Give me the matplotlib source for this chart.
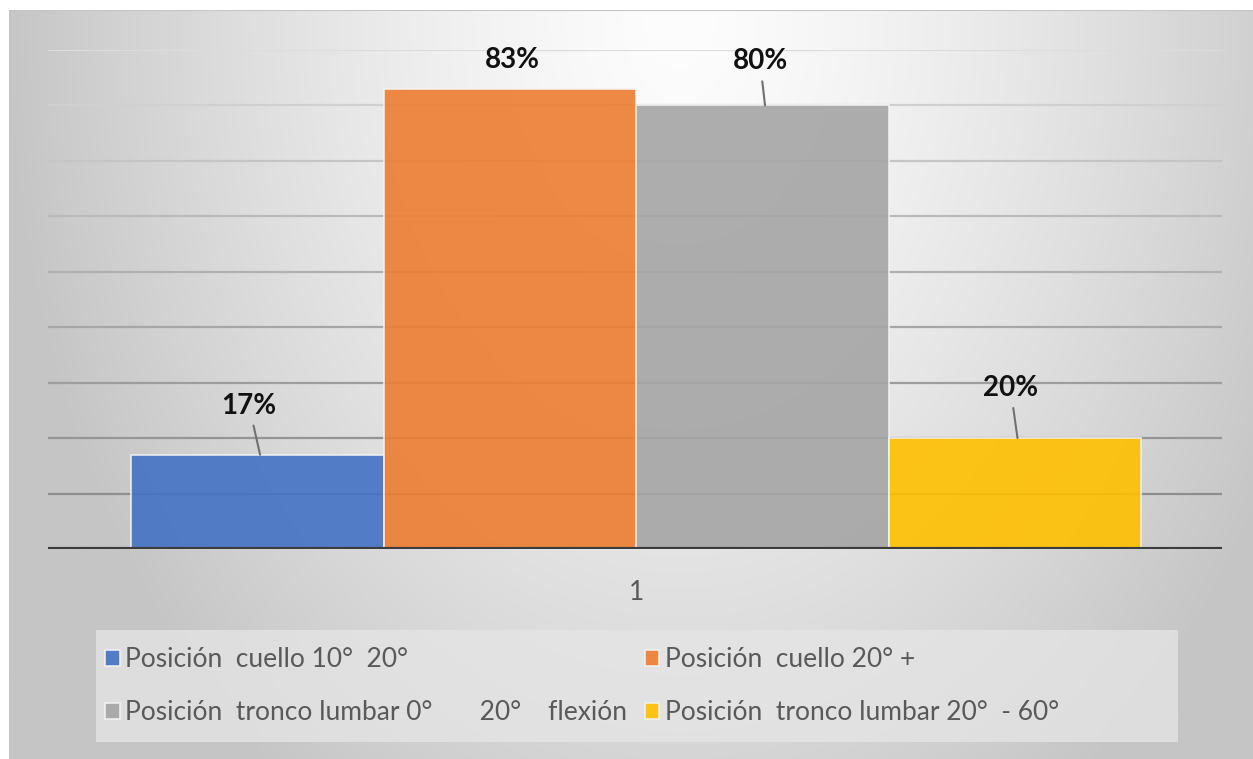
import numpy as np
import matplotlib
matplotlib.use("Agg")
import matplotlib.pyplot as plt
from matplotlib.patches import Rectangle

plt.rcParams['font.family'] = ['Lato', 'DejaVu Sans']

# Data
categories = ["1"]
series_names = [
    "Posición  cuello 10°  20°",
    "Posición  cuello 20° +",
    "Posición  tronco lumbar 0°       20°    flexión",
    "Posición  tronco lumbar 20°  - 60°",
]
values = [0.17, 0.83, 0.80, 0.20]
value_labels = ["17%", "83%", "80%", "20%"]
colors = ["#4472C4", "#ED7D31", "#A5A5A5", "#FFC000"]

W, H = 1253, 759
fig = plt.figure(figsize=(W / 100, H / 100), dpi=100)
fig.patch.set_facecolor("white")

def fx(px):
    return px / W

def fy(py):
    return 1 - py / H

# Chart area background with a soft radial gradient
bg = fig.add_axes([fx(9), fy(759), fx(1253) - fx(9), fy(10) - fy(759)], zorder=0)
gx = np.linspace(9, 1253, 400)
gy = np.linspace(10, 759, 300)
GX, GY = np.meshgrid(gx, gy)
r = np.sqrt(((GX - 680) / 680) ** 2 + ((GY - 20) / 950) ** 2)
shade = (253 - 56 * np.clip(r, 0, 1) ** 1.35) / 255.0
img = np.dstack([shade, shade, shade])
bg.imshow(img, aspect="auto", extent=(0, 1, 0, 1), origin="upper")
bg.set_xlim(0, 1)
bg.set_ylim(0, 1)
bg.axis("off")
bg.add_line(plt.Line2D([0, 1], [1, 1], color="#c4c4c4", lw=1.5, transform=bg.transAxes))
bg.add_line(plt.Line2D([0, 0], [0, 1], color="#c4c4c4", lw=1.5, transform=bg.transAxes))

# Legend box
fig.patches.append(Rectangle((fx(96), fy(742)), fx(1178) - fx(96), fy(630) - fy(742),
                             transform=fig.transFigure, facecolor="#e6e6e6",
                             edgecolor="none", alpha=0.75, zorder=1))

# Plot area
ax = fig.add_axes([fx(48), fy(549), fx(1222) - fx(48), fy(50) - fy(549)], zorder=2)
ax.patch.set_alpha(0)
ymax = 0.9
ax.set_ylim(0, ymax)
ax.set_xlim(-2.33, 2.32)

# Horizontal gridlines, fading toward the top
levels = np.arange(0.1, ymax + 0.001, 0.1)
for lv in levels:
    t = lv / ymax
    c = 0x8a + (0xdc - 0x8a) * t ** 1.3
    col = "#%02x%02x%02x" % (int(c), int(c), int(c))
    ax.axhline(lv, color=col, lw=1.6, zorder=1)

n = len(values)
offsets = np.arange(n) - (n - 1) / 2
bars = []
for i in range(n):
    b = ax.bar(offsets[i], values[i], width=1.0, color=colors[i], alpha=0.9,
               edgecolor="#f4f4f4", linewidth=1.2, zorder=2, label=series_names[i])
    bars.append(b)

ax.axhline(0, color="#3c3c3c", lw=3, zorder=3)

# Value labels with leader lines
label_offsets = [(-11, 49), (0, 29), (-5, 44), (-7, 50)]
leaders = [True, False, True, True]
for i in range(n):
    dx, dy = label_offsets[i]
    ap = dict(arrowstyle="-", color="#707070", lw=1.5, shrinkA=3, shrinkB=0) if leaders[i] else None
    ax.annotate(value_labels[i], xy=(offsets[i] + 0.01, values[i]), xytext=(dx, dy),
                textcoords="offset pixels", ha="center", va="center",
                fontsize=20, fontweight="bold", color="#111111", arrowprops=ap, zorder=5)

ax.set_xticks([0])
ax.set_xticklabels(categories, fontsize=19, color="#595959")
ax.tick_params(axis="x", length=0, pad=22)
ax.set_yticks([])
for s in ax.spines.values():
    s.set_visible(False)

# Legend: row 1 blue / orange, row 2 gray / yellow
order = [0, 2, 1, 3]
handles = [bars[i] for i in order]
labels = [series_names[i] for i in order]
leg = fig.legend(handles, labels, ncol=2, loc="upper left",
                 bbox_to_anchor=(fx(105), fy(647)), frameon=False,
                 fontsize=19, handlelength=0.55, handleheight=0.55,
                 handletextpad=0.2, columnspacing=0.68, labelspacing=1.07,
                 borderpad=0, borderaxespad=0)
for t in leg.get_texts():
    t.set_color("#595959")
leg.set_zorder(3)

fig.savefig("out.png", dpi=100)
